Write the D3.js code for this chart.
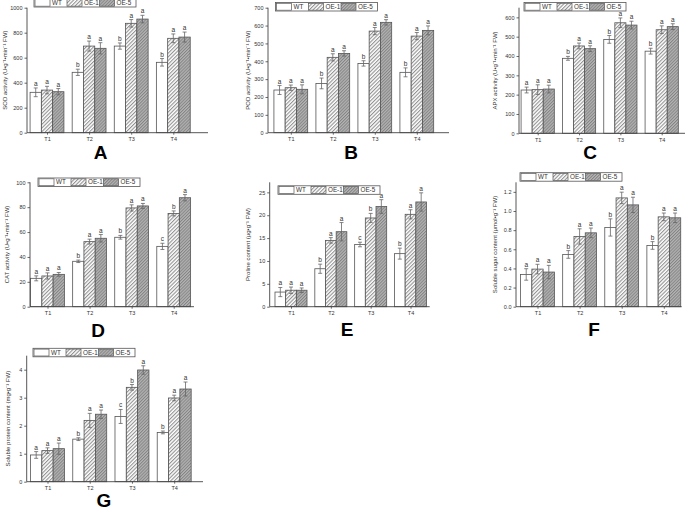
<!DOCTYPE html>
<html><head><meta charset="utf-8">
<script src="https://cdn.jsdelivr.net/npm/d3@7"></script>
<style>
html,body{margin:0;padding:0;background:#fff;}
svg text{font-family:"Liberation Sans",Arial,sans-serif;}
</style></head>
<body>
<svg id="chart" width="685" height="509"></svg>
<script>
// ---------- data ----------
const categories = ["T1", "T2", "T3", "T4"];
const seriesNames = ["WT", "OE-1", "OE-5"];

const sodMeans = [[323, 483, 693, 563], [341, 693, 875, 755], [328, 675, 909, 765]];
const sodErr   = [[35, 25, 25, 30], [30, 40, 30, 35], [25, 45, 30, 40]];
const sodSig   = [["a","b","b","b"], ["a","a","a","a"], ["a","a","a","a"]];
const sodTicks = [0, 200, 400, 600, 800, 1000];

const podMeans = [[239, 276, 388, 338], [252, 422, 569, 541], [243, 444, 618, 573]];
const podErr   = [[25, 30, 15, 25], [15, 20, 20, 20], [25, 15, 15, 25]];
const podSig   = [["a","b","b","b"], ["a","a","a","a"], ["a","a","a","a"]];
const podTicks = [0, 100, 200, 300, 400, 500, 600, 700];

const apxMeans = [[224, 388, 486, 425], [226, 452, 572, 536], [229, 438, 560, 552]];
const apxErr   = [[15, 10, 20, 15], [25, 15, 25, 20], [20, 15, 20, 15]];
const apxSig   = [["a","b","b","b"], ["a","a","a","a"], ["a","a","a","a"]];
const apxTicks = [0, 100, 200, 300, 400, 500, 600];

const catMeans = [[22.8, 36.5, 55.8, 48.5], [24.7, 52.3, 79.4, 75.0], [26.0, 55.0, 81.0, 87.6]];
const catErr   = [[2.0, 1.0, 1.5, 2.5], [2.5, 2.0, 2.5, 2.0], [1.5, 3.0, 2.0, 2.5]];
const catSig   = [["a","b","b","c"], ["a","a","a","b"], ["a","a","a","a"]];
const catTicks = [0, 20, 40, 60, 80, 100];

const proMeans = [[3.2, 8.3, 13.6, 11.6], [3.6, 14.5, 19.4, 20.2], [3.6, 16.4, 21.9, 22.9]];
const proErr   = [[1.0, 1.0, 0.5, 1.2], [0.7, 0.6, 1.0, 1.0], [0.5, 2.0, 1.5, 2.0]];
const proSig   = [["a","b","c","b"], ["a","a","b","a"], ["a","a","a","a"]];
const proTicks = [0, 5, 10, 15, 20, 25];

const sugMeans = [[0.337, 0.546, 0.828, 0.640], [0.393, 0.734, 1.137, 0.939], [0.362, 0.772, 1.064, 0.929]];
const sugErr   = [[0.06, 0.04, 0.09, 0.04], [0.05, 0.08, 0.06, 0.04], [0.07, 0.05, 0.08, 0.05]];
const sugSig   = [["a","b","b","b"], ["a","a","a","a"], ["a","a","a","a"]];
const sugTicks = [0, 0.2, 0.4, 0.6, 0.8, 1.0, 1.2];

const protMeans = [[0.955, 1.52, 2.33, 1.76], [1.11, 2.19, 3.37, 2.99], [1.18, 2.41, 3.99, 3.31]];
const protErr   = [[0.12, 0.05, 0.25, 0.05], [0.10, 0.25, 0.10, 0.10], [0.20, 0.15, 0.15, 0.25]];
const protSig   = [["a","b","c","b"], ["a","a","b","a"], ["a","a","a","a"]];
const protTicks = [0, 1, 2, 3, 4];

const panelLetters = ["A", "B", "C", "D", "E", "F", "G"];
const yTitles = [
  "SOD activity (U\u2022g\u207B\u00B9\u2022min\u207B\u00B9 FW)",
  "POD activity (U\u2022g\u207B\u00B9\u2022min\u207B\u00B9 FW)",
  "APX activity (U\u2022g\u207B\u00B9\u2022min\u207B\u00B9 FW)",
  "CAT activity (U\u2022g\u207B\u00B9\u2022min\u207B\u00B9 FW)",
  "Proline content (\u03BCg\u2022g\u207B\u00B9 FW)",
  "Soluble sugar content (\u03BCmol\u2022g\u207B\u00B9 FW)",
  "Soluble protein content (mg\u2022g\u207B\u00B9 FW)"
];
const yMaxima = [1000, 700, 650, 100, 27.2, 1.3, 4.5];

// ---------- layout (positions only) ----------
const layout = [
  {x0: 27,  xEnd: 208, c1: 47,    c4: 173.3, yTop: 7.7,   y0: 132.7, titleX: 5,   legX: 34,  legY: -1.5, letX: 100.5, letY: 159.3, fmt: d3.format("d")},
  {x0: 268, xEnd: 449, c1: 290.8, c4: 416.8, yTop: 7.7,   y0: 132.7, titleX: 248, legX: 275.5, legY: 2.5, letX: 351, letY: 159, fmt: d3.format("d")},
  {x0: 519, xEnd: 685, c1: 537.7, c4: 661.7, yTop: 7.7,   y0: 133.3, titleX: 495, legX: 524, legY: 2.5,  letX: 590, letY: 159, fmt: d3.format("d")},
  {x0: 30,  xEnd: 194, c1: 47.5,  c4: 173.7, yTop: 182.3, y0: 306.7, titleX: 7,   legX: 38,  legY: 178,  letX: 98,  letY: 336.7, fmt: d3.format("d")},
  {x0: 269.7, xEnd: 429.7, c1: 291, c4: 410.5, yTop: 182.3, y0: 306.7, titleX: 248, legX: 278, legY: 185.8, letX: 347, letY: 336.3, fmt: d3.format("d")},
  {x0: 516, xEnd: 681.7, c1: 537.5, c4: 663.8, yTop: 182.3, y0: 306.7, titleX: 495, legX: 520, legY: 172.7, letX: 594, letY: 336.3, fmt: d3.format(".1f")},
  {x0: 26.7, xEnd: 203, c1: 47.5, c4: 174.2, yTop: 355.7, y0: 481.7, titleX: 7.5, legX: 33,  legY: 348.3, letX: 104, letY: 506.5, fmt: d3.format("d")}
];

const panelsData = [
  [sodMeans, sodErr, sodSig, sodTicks],
  [podMeans, podErr, podSig, podTicks],
  [apxMeans, apxErr, apxSig, apxTicks],
  [catMeans, catErr, catSig, catTicks],
  [proMeans, proErr, proSig, proTicks],
  [sugMeans, sugErr, sugSig, sugTicks],
  [protMeans, protErr, protSig, protTicks]
];

// ---------- drawing ----------
const svg = d3.select("#chart");
svg.append("rect").attr("width", 685).attr("height", 509).attr("fill", "#fff");

const defs = svg.append("defs");
const p1 = defs.append("pattern").attr("id", "hatch1").attr("patternUnits", "userSpaceOnUse")
  .attr("width", 2.6).attr("height", 2.6).attr("patternTransform", "rotate(45)");
p1.append("rect").attr("width", 2.6).attr("height", 2.6).attr("fill", "#fff");
p1.append("line").attr("x1", 0.6).attr("y1", 0).attr("x2", 0.6).attr("y2", 2.6).attr("stroke", "#7a7a7a").attr("stroke-width", 0.9);
const p2 = defs.append("pattern").attr("id", "hatch2").attr("patternUnits", "userSpaceOnUse")
  .attr("width", 2.2).attr("height", 2.2).attr("patternTransform", "rotate(45)");
p2.append("rect").attr("width", 2.2).attr("height", 2.2).attr("fill", "#b4b4b4");
p2.append("line").attr("x1", 0.5).attr("y1", 0).attr("x2", 0.5).attr("y2", 2.2).attr("stroke", "#808080").attr("stroke-width", 0.9);

const fills = ["#ffffff", "url(#hatch1)", "url(#hatch2)"];
const axisColor = "#444";
const barStroke = "#555";

layout.forEach((L, pi) => {
  const [means, errs, sigs, ticks] = panelsData[pi];
  const g = svg.append("g");
  const spacing = (L.c4 - L.c1) / 3;
  const x = d3.scaleLinear().domain([0, 3]).range([L.c1, L.c4]);
  const y = d3.scaleLinear().domain([0, yMaxima[pi]]).range([L.y0, L.yTop]);
  const bw = spacing * 0.268;

  // bars
  seriesNames.forEach((s, si) => {
    categories.forEach((c, ci) => {
      const v = means[si][ci];
      const bx = x(ci) + (si - 1.5) * bw;
      g.append("rect").attr("x", bx).attr("y", y(v)).attr("width", bw).attr("height", L.y0 - y(v))
        .attr("fill", fills[si]).attr("stroke", barStroke).attr("stroke-width", 0.8);
      const cx = bx + bw / 2;
      const e = errs[si][ci];
      const eg = g.append("g").attr("stroke", "#666").attr("stroke-width", 0.8);
      eg.append("line").attr("x1", cx).attr("x2", cx).attr("y1", y(v - e)).attr("y2", y(v + e));
      eg.append("line").attr("x1", cx - 2).attr("x2", cx + 2).attr("y1", y(v + e)).attr("y2", y(v + e));
      eg.append("line").attr("x1", cx - 2).attr("x2", cx + 2).attr("y1", y(v - e)).attr("y2", y(v - e));
      g.append("text").attr("x", cx).attr("y", y(v + e) - 2).attr("text-anchor", "middle")
        .attr("font-size", 6.5).attr("fill", "#333").text(sigs[si][ci]);
    });
  });

  // y axis
  const yAxis = d3.axisLeft(y).tickValues(ticks).tickSize(2.5).tickPadding(2).tickFormat(L.fmt);
  const ya = g.append("g").attr("transform", `translate(${L.x0},0)`).call(yAxis);
  ya.select(".domain").attr("d", `M0,${L.y0}V${L.yTop}`).attr("stroke", axisColor).attr("stroke-width", 0.9);
  ya.selectAll(".tick line").attr("stroke", axisColor).attr("stroke-width", 0.8);
  ya.selectAll(".tick text").attr("font-size", 5.5).attr("fill", "#333").attr("font-family", "Liberation Sans, Arial, sans-serif");

  // x axis
  const xb = d3.scaleLinear().domain([0, 3]).range([L.c1, L.c4]);
  const xAxis = d3.axisBottom(xb).tickValues([0, 1, 2, 3]).tickSize(2).tickPadding(2.5).tickFormat(i => categories[i]);
  const xa = g.append("g").attr("transform", `translate(0,${L.y0})`).call(xAxis);
  xa.select(".domain").attr("d", `M${L.x0},0H${L.xEnd}`).attr("stroke", axisColor).attr("stroke-width", 0.9);
  xa.selectAll(".tick line").attr("stroke", axisColor).attr("stroke-width", 0.8);
  xa.selectAll(".tick text").attr("font-size", 5.5).attr("fill", "#333").attr("font-family", "Liberation Sans, Arial, sans-serif");

  // y title
  g.append("text").attr("transform", `translate(${L.titleX},${(L.y0 + L.yTop) / 2}) rotate(-90)`)
    .attr("text-anchor", "middle").attr("dy", "0.35em").attr("font-size", 6).attr("fill", "#333").text(yTitles[pi]);

  // legend
  const lg = g.append("g").attr("transform", `translate(${L.legX},${L.legY})`);
  const offs = [0, 32, 64.5];
  const lh = 8.5;
  lg.append("rect").attr("x", 0).attr("y", 0).attr("width", 102).attr("height", lh)
    .attr("fill", "#fff").attr("stroke", "#555").attr("stroke-width", 0.8);
  seriesNames.forEach((s, si) => {
    lg.append("rect").attr("x", offs[si] + 1).attr("y", 0.8).attr("width", 15).attr("height", lh - 1.6)
      .attr("fill", fills[si]).attr("stroke", "#555").attr("stroke-width", 0.7);
    lg.append("text").attr("x", offs[si] + 18).attr("y", lh / 2).attr("dy", "0.35em")
      .attr("font-size", 6.3).attr("fill", "#333").text(s);
  });

  // panel letter
  g.append("text").attr("x", L.letX).attr("y", L.letY).attr("text-anchor", "middle")
    .attr("font-size", 19).attr("font-weight", "bold").attr("fill", "#000").text(panelLetters[pi]);
});
</script>
</body></html>
